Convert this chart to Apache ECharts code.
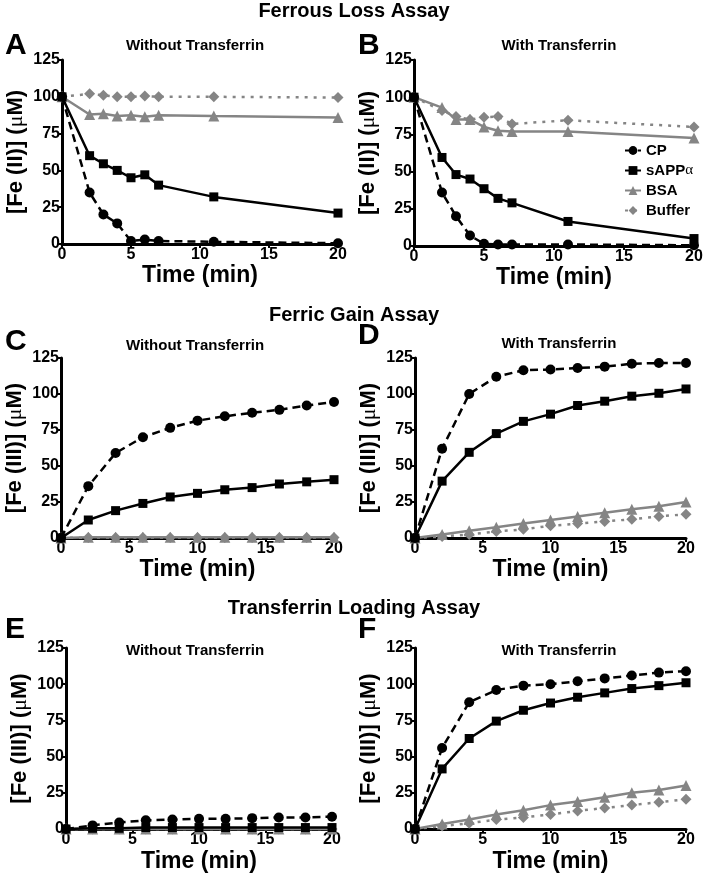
<!DOCTYPE html>
<html>
<head>
<meta charset="utf-8">
<script src="https://cdn.jsdelivr.net/npm/echarts@6/dist/echarts.min.js"></script>
<style>html,body{margin:0;padding:0;background:#fff}#c{width:708px;height:878px}</style>
</head>
<body>
<div id="c"></div>
<script>
// ---- data ----
const seriesNames = ['CP', 'sAPPα', 'BSA', 'Buffer'];
const xTicks = [0, 5, 10, 15, 20];
const yTicks = [0, 25, 50, 75, 100, 125];

// Ferrous loss assay (A, B)
const timeLoss = [0, 2, 3, 4, 5, 6, 7, 11, 20];
const aCP     = [100, 35, 20, 14, 2, 3, 2, 1.5, 0.5];
const aSAPP   = [100, 60, 54.5, 50, 45, 47, 40, 32, 21];
const aBSA    = [100, 88, 88.5, 87, 87.5, 86.5, 87.5, 87, 86];
const aBuffer = [100, 102, 101, 100, 100, 100.5, 100, 100, 99.5];

const bCP     = [100, 36, 20, 7, 1.5, 1, 1, 1, 0.5];
const bSAPP   = [100, 59.5, 48, 45, 38.5, 32, 29, 16.5, 5];
const bBSA    = [100, 93, 85, 85, 80, 77.5, 77, 77, 72.5];
const bBuffer = [100, 91, 87, 85, 86.5, 87, 82, 84.5, 80];

// Ferric gain assay (C, D) and transferrin loading (E, F)
const timeGain = [0, 2, 4, 6, 8, 10, 12, 14, 16, 18, 20];
const cCP     = [0, 36, 59, 70, 76.5, 81.5, 84.5, 87, 89, 92, 94.5];
const cSAPP   = [0, 12.5, 19, 24, 28.5, 31, 33.5, 35, 37.5, 39, 40.5];
const cBSA    = [0, 0.5, 0.5, 0.5, 0.5, 0.5, 0.5, 0.5, 0.5, 0.5, 0.5];
const cBuffer = [0, 0.3, 0.3, 0.3, 0.3, 0.3, 0.3, 0.3, 0.3, 0.3, 0.3];

const dCP     = [0, 62, 100, 112, 116.5, 117, 118, 119, 121, 121.5, 121.5];
const dSAPP   = [0, 39.5, 59.5, 72.5, 81, 86, 92, 95, 98.5, 100.5, 103.5];
const dBSA    = [0, 2.5, 5, 7.5, 10, 12.5, 15, 17.5, 20, 22, 25];
const dBuffer = [0, 1, 2.5, 4.5, 6, 8.5, 10, 11.5, 13, 15, 16.5];

const eCP     = [0, 2.5, 4.5, 6, 6.5, 7, 7, 7.5, 8, 8, 8.5];
const eSAPP   = [0, 0.5, 0.5, 1, 1, 1, 1, 1, 1, 1, 1];
const eBSA    = [0, 0, 0, 0, 0, 0, 0, 0, 0, 0, 0];
const eBuffer = [0, 0, 0, 0, 0, 0, 0, 0, 0, 0, 0];

const fCP     = [0, 56, 87.5, 96, 99, 100, 102, 104, 106, 108, 109];
const fSAPP   = [0, 41.5, 62.5, 74.5, 82, 87, 91, 94, 97, 99, 101];
const fBSA    = [0, 3.5, 6.5, 10, 13, 16.5, 19, 22, 25, 27, 30];
const fBuffer = [0, 2, 4, 6.5, 8, 10, 12.5, 14.5, 16.5, 18.5, 20.5];

const mainTitles = ['Ferrous Loss Assay', 'Ferric Gain Assay', 'Transferrin Loading Assay'];
const subTitles = ['Without Transferrin', 'With Transferrin'];
const panelLetters = ['A', 'B', 'C', 'D', 'E', 'F'];

// ---- layout ----
const FONT = '"Liberation Sans", Arial, sans-serif';
const GRAY = '#858585';
const grids = [
  {left: 62, top: 60, width: 276, height: 184},
  {left: 414, top: 60, width: 280, height: 186},
  {left: 61, top: 358, width: 273, height: 180},
  {left: 415, top: 358, width: 271, height: 180},
  {left: 66, top: 648, width: 266, height: 181},
  {left: 415, top: 648, width: 271, height: 181}
];
const xNameGaps = [16, 16, 18, 18, 21, 21];
const yNames = ['II', 'II', 'III', 'III', 'III', 'III'];
const panels = [
  {t: timeLoss, d: [aCP, aSAPP, aBSA, aBuffer]},
  {t: timeLoss, d: [bCP, bSAPP, bBSA, bBuffer]},
  {t: timeGain, d: [cCP, cSAPP, cBSA, cBuffer]},
  {t: timeGain, d: [dCP, dSAPP, dBSA, dBuffer]},
  {t: timeGain, d: [eCP, eSAPP, eBSA, eBuffer]},
  {t: timeGain, d: [fCP, fSAPP, fBSA, fBuffer]}
];

const styles = [
  {color: '#000', type: [8, 5], symbol: 'circle', size: 10},
  {color: '#000', type: 'solid', symbol: 'rect', size: 9},
  {color: GRAY, type: 'solid', symbol: 'triangle', size: 11},
  {color: GRAY, type: [3, 6], symbol: 'diamond', size: 11}
];

const xAxes = [], yAxes = [], series = [];
grids.forEach((g, i) => {
  xAxes.push({
    gridIndex: i, type: 'value', min: xTicks[0], max: xTicks[xTicks.length - 1],
    interval: xTicks[1] - xTicks[0],
    axisLine: {lineStyle: {color: '#000', width: 3}},
    axisTick: {show: true, length: 4, lineStyle: {color: '#000', width: 2}},
    axisLabel: {fontSize: 16, fontWeight: 'bold', color: '#000', fontFamily: FONT, margin: 3},
    splitLine: {show: false},
    name: 'Time (min)', nameLocation: 'middle', nameGap: xNameGaps[i],
    nameTextStyle: {fontSize: 23, fontWeight: 'bold', color: '#000', fontFamily: FONT}
  });
  yAxes.push({
    gridIndex: i, type: 'value', min: yTicks[0], max: yTicks[yTicks.length - 1],
    interval: yTicks[1] - yTicks[0],
    axisLine: {lineStyle: {color: '#000', width: 3}},
    axisTick: {show: true, length: 4, lineStyle: {color: '#000', width: 2}},
    axisLabel: {fontSize: 16, fontWeight: 'bold', color: '#000', fontFamily: FONT, margin: 2},
    splitLine: {show: false},
    name: '{b|[Fe (' + yNames[i] + ')] (}{m|μ}{b|M)}', nameLocation: 'middle', nameGap: 35,
    nameTextStyle: {
      rich: {
        b: {fontSize: 22, fontWeight: 'bold', color: '#000', fontFamily: FONT},
        m: {fontSize: 22, fontWeight: 'normal', color: '#000', fontFamily: '"Liberation Serif", serif'}
      }
    }
  });
  const p = panels[i];
  seriesNames.forEach((name, k) => {
    const s = styles[k];
    series.push({
      name: name, type: 'line', xAxisIndex: i, yAxisIndex: i,
      data: p.t.map((t, j) => [t, p.d[k][j]]),
      symbol: s.symbol, symbolSize: s.size, clip: false,
      lineStyle: {color: s.color, width: 2.5, type: s.type},
      itemStyle: {color: s.color},
      z: 10 - k
    });
  });
});

const titles = [];
const mainY = [1, 305, 598];
mainTitles.forEach((t, i) => titles.push({
  text: t, left: 354, top: mainY[i], textAlign: 'center', padding: 0,
  textStyle: {fontSize: 20, fontWeight: 'bold', color: '#000', fontFamily: FONT}
}));
const subPos = [[195, 38], [559, 38], [195, 338], [559, 336], [195, 643], [559, 643]];
subPos.forEach((p, i) => titles.push({
  text: subTitles[i % 2], left: p[0], top: p[1], textAlign: 'center', padding: 0,
  textStyle: {fontSize: 15, fontWeight: 'bold', color: '#000', fontFamily: FONT}
}));
const letterPos = [[5, 31], [358, 31], [5, 327], [358, 321], [5, 615], [358, 615]];
letterPos.forEach((p, i) => titles.push({
  text: panelLetters[i], left: p[0], top: p[1], padding: 0,
  textStyle: {fontSize: 30, fontWeight: 'bold', color: '#000', fontFamily: FONT}
}));

const chart = echarts.init(document.getElementById('c'), null, {renderer: 'canvas'});
chart.setOption({
  backgroundColor: '#fff',
  animation: false,
  title: titles,
  grid: grids,
  xAxis: xAxes,
  yAxis: yAxes,
  legend: {
    data: seriesNames, orient: 'vertical', left: 624, top: 143,
    itemWidth: 16, itemHeight: 11, itemGap: 5, padding: 0,
    formatter: n => n === 'sAPPα' ? '{n|sAPP}{g|α}' : '{n|' + n + '}',
    textStyle: {
      rich: {
        n: {fontSize: 15, fontWeight: 'bold', color: '#000', fontFamily: FONT},
        g: {fontSize: 15, fontWeight: 'normal', color: '#000', fontFamily: '"Liberation Serif", serif'}
      }
    }
  },
  series: series
});
</script>
</body>
</html>
